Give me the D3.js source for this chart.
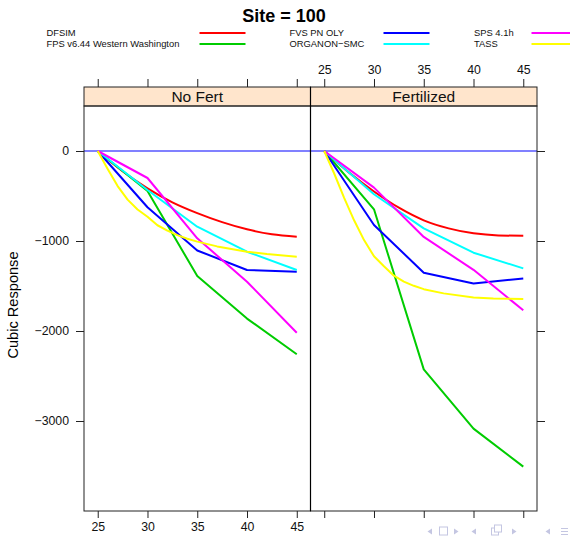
<!DOCTYPE html>
<html>
<head>
<meta charset="utf-8">
<script src="https://cdn.jsdelivr.net/npm/d3@7"></script>
<style>
  body { margin: 0; background: #fff; }
  svg { display: block; font-family: "Liberation Sans", Arial, Helvetica, sans-serif; }
</style>
</head>
<body>
<svg id="chart" width="570" height="538"></svg>
<script>
// ---- data -------------------------------------------------------------
const panels = ["No Fert", "Fertilized"];
const models = ["DFSIM", "FPS v6.44 Western Washington", "FVS PN OLY",
                "ORGANON\u2212SMC", "SPS 4.1h", "TASS"];
const modelColors = ["#ff0000", "#00cc00", "#0000ff", "#00ffff", "#ff00ff", "#ffff00"];

const ages = [25, 30, 35, 40, 45];
const dfsimAges = [25, 27.5, 30, 32.5, 35, 37.5, 40, 42.5, 45];
const tassAges = [25, 26, 27, 28, 29, 30, 31, 32, 33, 34, 35, 37, 40, 42, 45];

// No Fert
const dfsimNoFert   = [0, -225, -415, -570, -690, -790, -870, -925, -952];
const fpsNoFert     = [0, -445, -1389, -1862, -2259];
const fvsNoFert     = [0, -625, -1105, -1322, -1342];
const organonNoFert = [0, -433, -841, -1119, -1322];
const spsNoFert     = [0, -300, -970, -1452, -2019];
const tassNoFert    = [0, -200, -390, -540, -650, -730, -825, -885, -935, -975, -1007, -1060, -1120, -1145, -1174];

// Fertilized
const dfsimFert   = [0, -240, -450, -630, -770, -860, -915, -938, -942];
const fpsFert     = [0, -648, -2426, -3085, -3507];
const fvsFert     = [0, -822, -1352, -1472, -1417];
const organonFert = [0, -480, -859, -1130, -1304];
const spsFert     = [0, -407, -955, -1320, -1770];
const tassFert    = [0, -250, -520, -770, -990, -1170, -1280, -1385, -1452, -1498, -1535, -1582, -1628, -1640, -1645];

const xTicks = [25, 30, 35, 40, 45];
const yTicks = [0, -1000, -2000, -3000];
const titleText = "Site = 100";
const yLabel = "Cubic Response";

// per panel: one entry per model -> {x: ages, y: values, smooth}
const panelSeries = [
  [
    { x: dfsimAges, y: dfsimNoFert, smooth: true },
    { x: ages, y: fpsNoFert },
    { x: ages, y: fvsNoFert },
    { x: ages, y: organonNoFert },
    { x: ages, y: spsNoFert },
    { x: tassAges, y: tassNoFert }
  ],
  [
    { x: dfsimAges, y: dfsimFert, smooth: true },
    { x: ages, y: fpsFert },
    { x: ages, y: fvsFert },
    { x: ages, y: organonFert },
    { x: ages, y: spsFert },
    { x: tassAges, y: tassFert }
  ]
];

// ---- layout -----------------------------------------------------------
const svg = d3.select("#chart");
const panelLeft = [84, 310.5];
const panelW = 226.5;
const stripTop = 87, panelTop = 106, panelBottom = 511;
const axisCol = "#222";

const x = d3.scaleLinear().domain([23.62, 46.38]).range([0, panelW]);
const y = d3.scaleLinear().domain([-4000, 500]).range([panelBottom, panelTop]);

// title
svg.append("text")
  .attr("x", 284).attr("y", 22)
  .attr("text-anchor", "middle")
  .attr("font-size", 18).attr("font-weight", "bold")
  .text(titleText);

// legend: three columns, two rows, filled column by column
const legCols = [
  { tx: 46.5, lx1: 199.5, lx2: 245.5 },
  { tx: 289.5, lx1: 383.5, lx2: 429.5 },
  { tx: 474, lx1: 531.5, lx2: 578 }
];
const legRows = [33, 44];
models.forEach((m, i) => {
  const c = legCols[Math.floor(i / 2)], r = legRows[i % 2];
  svg.append("text").attr("x", c.tx).attr("y", r + 3.3)
    .attr("font-size", 9.4).attr("fill", "#111").text(m);
  svg.append("line").attr("x1", c.lx1).attr("x2", c.lx2)
    .attr("y1", r).attr("y2", r)
    .attr("stroke", modelColors[i]).attr("stroke-width", 2);
});

// y axis label
svg.append("text")
  .attr("transform", "translate(17.5,305) rotate(-90)")
  .attr("text-anchor", "middle")
  .attr("font-size", 14.6)
  .text(yLabel);

panels.forEach((name, p) => {
  const g = svg.append("g").attr("transform", `translate(${panelLeft[p]},0)`);

  // zero reference line
  g.append("line")
    .attr("x1", 0).attr("x2", panelW)
    .attr("y1", y(0)).attr("y2", y(0))
    .attr("stroke", "#8080ff").attr("stroke-width", 2);

  // series
  panelSeries[p].forEach((s, i) => {
    const pts = s.x.map((a, k) => [a, s.y[k]]);
    const line = d3.line()
      .x(d => x(d[0])).y(d => y(d[1]))
      .curve(s.smooth ? d3.curveMonotoneX : d3.curveLinear);
    g.append("path")
      .attr("d", line(pts))
      .attr("fill", "none")
      .attr("stroke", modelColors[i])
      .attr("stroke-width", 2)
      .attr("stroke-linejoin", "round");
  });

  // strip
  g.append("rect")
    .attr("x", 0).attr("y", stripTop)
    .attr("width", panelW).attr("height", panelTop - stripTop)
    .attr("fill", "#ffe5cc").attr("stroke", axisCol).attr("stroke-width", 1);
  g.append("text")
    .attr("x", panelW / 2).attr("y", 102)
    .attr("text-anchor", "middle").attr("font-size", 15.5)
    .attr("fill", "#111")
    .text(name);

  // panel frame
  g.append("rect")
    .attr("x", 0).attr("y", panelTop)
    .attr("width", panelW).attr("height", panelBottom - panelTop)
    .attr("fill", "none").attr("stroke", axisCol).attr("stroke-width", 1);

  // top axis: labels on the right panel only
  const top = g.append("g").attr("transform", `translate(0,${stripTop})`)
    .call(d3.axisTop(x).tickValues(xTicks).tickSize(8).tickPadding(5)
      .tickFormat(p === 1 ? d3.format("d") : () => ""));
  // bottom axis: labels on the left panel only
  const bot = g.append("g").attr("transform", `translate(0,${panelBottom})`)
    .call(d3.axisBottom(x).tickValues(xTicks).tickSize(7).tickPadding(4)
      .tickFormat(p === 0 ? d3.format("d") : () => ""));
  [top, bot].forEach(a => {
    a.select(".domain").remove();
    a.selectAll(".tick line").attr("stroke", axisCol);
    a.selectAll("text").attr("font-size", 12.3).attr("fill", "#111")
      .attr("font-family", "\"Liberation Sans\", Arial, sans-serif");
  });

  // y axis: labels on the left, ticks only on the right
  if (p === 0) {
    const ya = g.append("g")
      .call(d3.axisLeft(y).tickValues(yTicks).tickSize(8).tickPadding(7)
        .tickFormat(d => d3.format("d")(d).replace("-", "\u2212")));
    ya.select(".domain").remove();
    ya.selectAll(".tick line").attr("stroke", axisCol);
    ya.selectAll("text").attr("font-size", 12.3).attr("fill", "#111")
      .attr("font-family", "\"Liberation Sans\", Arial, sans-serif");
  } else {
    const ya = g.append("g").attr("transform", `translate(${panelW},0)`)
      .call(d3.axisRight(y).tickValues(yTicks).tickSize(8).tickFormat(() => ""));
    ya.select(".domain").remove();
    ya.selectAll(".tick line").attr("stroke", axisCol);
  }
});

// black divider between the panels
svg.append("line")
  .attr("x1", panelLeft[1]).attr("x2", panelLeft[1])
  .attr("y1", stripTop).attr("y2", panelBottom)
  .attr("stroke", "#000").attr("stroke-width", 1.2);

// navigation symbols, bottom right
const nav = svg.append("g").attr("fill", "#c4c6e2").attr("stroke", "#c4c6e2");
const navY = 531.5;
function triL(cx) { nav.append("path").attr("stroke", "none")
  .attr("d", `M${cx - 2.5},${navY} L${cx + 2},${navY - 3} L${cx + 2},${navY + 3} Z`); }
function triR(cx) { nav.append("path").attr("stroke", "none")
  .attr("d", `M${cx + 2.5},${navY} L${cx - 2},${navY - 3} L${cx - 2},${navY + 3} Z`); }
triL(430);
nav.append("rect").attr("x", 439.5).attr("y", navY - 4.5).attr("width", 8).attr("height", 8)
  .attr("fill", "none").attr("stroke-width", 1);
triR(456);
triL(474);
nav.append("rect").attr("x", 491.5).attr("y", navY - 3.5).attr("width", 7).attr("height", 7)
  .attr("fill", "none").attr("stroke-width", 1);
nav.append("rect").attr("x", 494.5).attr("y", navY - 6.5).attr("width", 7).attr("height", 7)
  .attr("fill", "#fff").attr("stroke-width", 1);
triR(514);
triL(548);
[-3, 0, 3].forEach(dy => nav.append("line")
  .attr("x1", 561).attr("x2", 568).attr("y1", navY + dy).attr("y2", navY + dy)
  .attr("stroke-width", 1));
</script>
</body>
</html>
